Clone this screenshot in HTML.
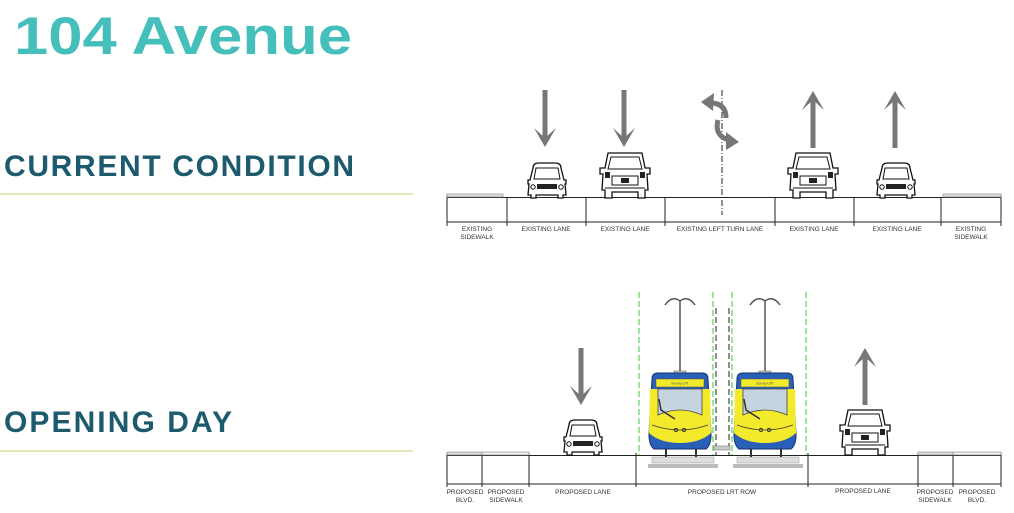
<!DOCTYPE html>
<html><head><meta charset="utf-8"><style>
html,body{margin:0;padding:0;background:#fff;width:1014px;height:513px;overflow:hidden}
svg{display:block}
.t{font-family:"Liberation Sans",sans-serif;font-size:6.5px;fill:#333;text-anchor:middle}
</style></head><body>
<svg width="1014" height="513" viewBox="0 0 1014 513" xmlns="http://www.w3.org/2000/svg">
<defs>
<g id="car">
 <path d="M-14,-30 Q-14,-35 -8,-35 L8,-35 Q14,-35 14,-30 L17,-18 L19,-18 L19,-14 L18,-14 L19,-3 L16,-3 L16,0 L11,0 L11,-3 L-11,-3 L-11,0 L-16,0 L-16,-3 L-19,-3 L-18,-14 L-19,-14 L-19,-18 L-17,-18 Z" fill="#fff" stroke="#111" stroke-width="1.3"/>
 <path d="M-11,-30 L11,-30 L13,-19 L-13,-19 Z" fill="none" stroke="#111" stroke-width="1"/>
 <rect x="-10" y="-14" width="20" height="5" fill="#222"/>
 <circle cx="-14" cy="-11" r="2.2" fill="none" stroke="#111"/><circle cx="14" cy="-11" r="2.2" fill="none" stroke="#111"/>
</g>
<g id="truck">
 <path d="M-17,-45 L17,-45 L20,-30 L25,-30 L25,-24 L22,-24 L23,-8 L20,-8 L20,0 L13,0 L13,-6 L-13,-6 L-13,0 L-20,0 L-20,-8 L-23,-8 L-22,-24 L-25,-24 L-25,-30 L-20,-30 Z" fill="#fff" stroke="#111" stroke-width="1.3"/>
 <path d="M-14,-41 L14,-41 L17,-29 L-17,-29 Z" fill="none" stroke="#111"/>
 <rect x="-13" y="-22" width="26" height="9" fill="none" stroke="#111"/>
 <rect x="-4" y="-20" width="8" height="5" fill="#222"/>
 <rect x="-20" y="-26" width="5" height="6" fill="#222"/><rect x="15" y="-26" width="5" height="6" fill="#222"/>
 <path d="M-20,-10 L20,-10" stroke="#111"/>
</g>
<g id="dn"><rect x="-2.5" y="0" width="5" height="50" fill="#777"/><path d="M-11,38 L0,57 L11,38 L0,48 Z" fill="#777"/></g>
<g id="tram">
 <path d="M0,-72 L0,-154 M-15,-150 Q-8,-160 0,-154 Q8,-160 15,-150" stroke="#555" stroke-width="1.5" fill="none"/>
 <rect x="-6" y="-84" width="12" height="3" fill="#ccc" stroke="#555" stroke-width=".5"/>
 <path d="M-28,-76 Q-28,-82 -22,-82 L22,-82 Q28,-82 28,-76 L31,-20 Q31,-10 26,-6 L-26,-6 Q-31,-10 -31,-20 Z" fill="#2a5fb8" stroke="#153070" stroke-width="1"/>
 <path d="M-30,-66 L30,-66 L31,-22 Q20,-12 0,-12 Q-20,-12 -31,-22 Z" fill="#f2ea2a"/>
 <rect x="-24" y="-76" width="48" height="8" fill="#f2ea2a" stroke="#555" stroke-width=".5"/>
 <text x="0" y="-70.5" font-family="Liberation Sans,sans-serif" font-size="3.5" text-anchor="middle" fill="#555">Surrey LRT</text>
 <path d="M-22,-66 L22,-66 L22,-40 Q0,-50 -22,-40 Z" fill="#c6d4e0" stroke="#444" stroke-width=".8"/>
 <path d="M-21,-56 L-19,-45 L-5,-36" stroke="#333" stroke-width="1.5" fill="none"/>
 <path d="M-28,-30 Q0,-20 28,-30" stroke="#333" stroke-width=".7" fill="none"/>
 <circle cx="-4" cy="-25" r="1.6" fill="none" stroke="#333"/><circle cx="4" cy="-25" r="1.6" fill="none" stroke="#333"/>
 <rect x="-28" y="2" width="62" height="6" fill="#ddd" stroke="#999" stroke-width=".5"/>
 <rect x="-32" y="9" width="70" height="4" fill="#bbb"/>
 <path d="M-14,-6 L-14,2 M16,-6 L16,2" stroke="#333" stroke-width="2"/>
</g>
</defs>

<text x="14" y="54" font-family="Liberation Sans,sans-serif" font-weight="bold" font-size="53" fill="#45bfbb" textLength="338" lengthAdjust="spacingAndGlyphs">104 Avenue</text>
<text x="4" y="176" font-family="Liberation Sans,sans-serif" font-weight="bold" font-size="30" fill="#1c5a6e" textLength="350">CURRENT CONDITION</text>
<rect x="0" y="193" width="413" height="2" fill="#e0e9b8"/>
<text x="4" y="432" font-family="Liberation Sans,sans-serif" font-weight="bold" font-size="30" fill="#1c5a6e" textLength="228">OPENING DAY</text>
<rect x="0" y="450" width="413" height="2" fill="#e0e9b8"/>

<!-- current -->
<g stroke="#222" stroke-width="1" fill="none">
 <path d="M447,197.5 H1001"/>
 <path d="M447,222 H1001"/>
 <path d="M447,195 V226 M507,197 V226 M586,197 V226 M665,197 V226 M775,197 V226 M854,197 V226 M941,197 V226 M1001,195 V226"/>
</g>
<rect x="447" y="194" width="56" height="3" fill="#ddd" stroke="#888" stroke-width=".6"/>
<rect x="943" y="194" width="58" height="3" fill="#ddd" stroke="#888" stroke-width=".6"/>
<path d="M722,90 V215" stroke="#222" stroke-width="1" stroke-dasharray="6,2,1,2"/>
<use href="#car" x="547" y="198"/>
<use href="#truck" x="625" y="198"/>
<use href="#truck" x="813" y="198"/>
<use href="#car" x="896" y="198"/>
<use href="#dn" x="545" y="90"/>
<use href="#dn" x="624" y="90"/>
<use href="#dn" transform="translate(813,148) scale(1,-1)"/>
<use href="#dn" transform="translate(895,148) scale(1,-1)"/>
<path d="M712,103 Q726,104 726,118" stroke="#777" stroke-width="5" fill="none"/>
<path d="M701,102 L714,93 L713,111 Z" fill="#777"/>
<path d="M718,120 Q714,136 729,140" stroke="#777" stroke-width="5" fill="none"/>
<path d="M739,142 L726,132 L726,150 Z" fill="#777"/>
<g class="t">
 <text x="477" y="231">EXISTING</text><text x="477" y="239">SIDEWALK</text>
 <text x="546" y="231">EXISTING LANE</text>
 <text x="625" y="231">EXISTING LANE</text>
 <text x="720" y="231">EXISTING LEFT TURN LANE</text>
 <text x="814" y="231">EXISTING LANE</text>
 <text x="897" y="231">EXISTING LANE</text>
 <text x="971" y="231">EXISTING</text><text x="971" y="239">SIDEWALK</text>
</g>

<!-- opening day -->
<g stroke="#222" stroke-width="1" fill="none">
 <path d="M447,455.5 H1001"/>
 <path d="M447,484 H1001"/>
 <path d="M447,453 V487 M482,453 V487 M529,453 V487 M636,453 V487 M808,453 V487 M918,453 V487 M953,453 V487 M1001,453 V487"/>
</g>
<rect x="447" y="452" width="35" height="3" fill="#ddd" stroke="#888" stroke-width=".6"/>
<rect x="482" y="452" width="47" height="3" fill="#eee" stroke="#888" stroke-width=".6"/>
<rect x="918" y="452" width="35" height="3" fill="#ddd" stroke="#888" stroke-width=".6"/>
<rect x="953" y="452" width="48" height="3" fill="#eee" stroke="#888" stroke-width=".6"/>
<g stroke="#3c3" stroke-width="1" stroke-dasharray="6,3">
 <path d="M639,292 V455 M713,292 V455 M732,292 V455 M806,292 V455"/>
</g>
<path d="M716,308 V455 M729,308 V455" stroke="#222" stroke-dasharray="6,3"/>
<rect x="714" y="446" width="16" height="4" fill="#ccc" stroke="#666" stroke-width=".5"/>
<use href="#tram" x="680" y="455"/>
<use href="#tram" x="765" y="455"/>
<use href="#car" x="583" y="455"/>
<use href="#truck" x="865" y="455"/>
<use href="#dn" x="581" y="348"/>
<use href="#dn" transform="translate(865,405) scale(1,-1)"/>
<g class="t">
 <text x="465" y="494">PROPOSED</text><text x="465" y="502">BLVD.</text>
 <text x="506" y="494">PROPOSED</text><text x="506" y="502">SIDEWALK</text>
 <text x="583" y="494">PROPOSED LANE</text>
 <text x="722" y="494">PROPOSED LRT ROW</text>
 <text x="863" y="493">PROPOSED LANE</text>
 <text x="935" y="494">PROPOSED</text><text x="935" y="502">SIDEWALK</text>
 <text x="977" y="494">PROPOSED</text><text x="977" y="502">BLVD.</text>
</g>
</svg>
</body></html>
